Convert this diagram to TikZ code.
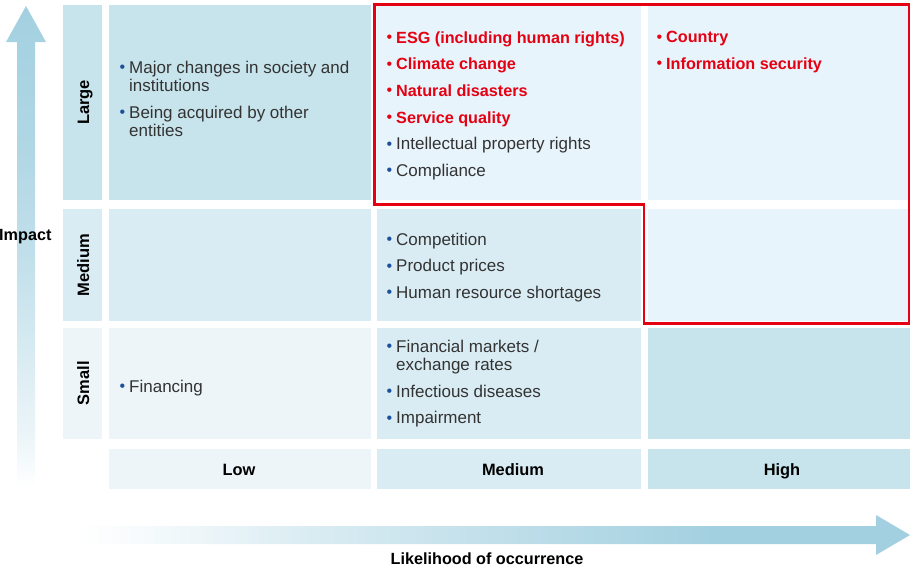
\documentclass[tikz,border=0pt]{standalone}
\usepackage{fontspec}
\setmainfont{Liberation Sans}

\definecolor{cellA}{HTML}{C7E3EB}
\definecolor{cellB}{HTML}{D9ECF3}
\definecolor{cellC}{HTML}{EDF5F9}
\definecolor{cellH}{HTML}{E8F4FC}
\definecolor{axisblue}{HTML}{A3D0E0}
\definecolor{riskred}{HTML}{E50012}
\definecolor{bodygray}{HTML}{333333}
\definecolor{dotblue}{HTML}{1D4F9C}

% axis arrow fades (white at the tail, full blue at the head)
\pgfdeclarehorizontalshading{xfade}{100bp}{color(0bp)=(white); color(25bp)=(white); color(29bp)=(axisblue!10); color(38bp)=(axisblue!38); color(50bp)=(axisblue!68); color(60bp)=(axisblue!92); color(63bp)=(axisblue); color(100bp)=(axisblue)}
\pgfdeclareverticalshading{yfade}{100bp}{color(0bp)=(white); color(25bp)=(white); color(30bp)=(axisblue!20); color(48bp)=(axisblue!65); color(60bp)=(axisblue!85); color(75bp)=(axisblue); color(100bp)=(axisblue)}

% list bullets
\newcommand\bl[1][dotblue]{\makebox[9.5pt][l]{\color{#1}\raisebox{0.6pt}{\fontsize{16}{16}\selectfont\textbullet}}}
\newcommand\rit[1]{\bl[riskred]{\color{riskred}\bfseries\fontsize{16.2}{18.4}\selectfont #1}}
\newcommand\gap{\\[8.2pt]}
\newcommand\cont{\\\hspace*{9.5pt}}

\tikzset{
  cell/.style={draw=none, inner sep=0pt, anchor=north west},
  items/.style={anchor=base west, inner sep=0pt, text=bodygray,
    font=\fontsize{17}{18.4}\selectfont},
  rowlab/.style={rotate=90, anchor=base, inner sep=0pt,
    font=\bfseries\fontsize{16.5}{16.5}\selectfont},
  collab/.style={anchor=base, inner sep=0pt,
    font=\bfseries\fontsize{16.4}{16.4}\selectfont},
  axislab/.style={inner sep=0pt, font=\bfseries\fontsize{16.2}{16.2}\selectfont},
}

\begin{document}
\begin{tikzpicture}[x=1pt, y=-1pt]
\useasboundingbox (0,0) rectangle (910,571);

% axis arrows
\path[shading=yfade] (17,488) -- (17,42) -- (6,42) -- (26,6) -- (46,42)
  -- (35,42) -- (35,488) -- cycle;
\path[shading=xfade] (80,526) -- (876,526) -- (876,515) -- (910,535)
  -- (876,555) -- (876,544) -- (80,544) -- cycle;

% row headers
\node[cell, fill=cellA, minimum width=39pt, minimum height=195pt] (rowL) at (63,5) {};
\node[cell, fill=cellB, minimum width=39pt, minimum height=112pt] (rowM) at (63,209) {};
\node[cell, fill=cellC, minimum width=39pt, minimum height=111pt] (rowS) at (63,328) {};

% grid cells: impact row x likelihood column
\node[cell, fill=cellA, minimum width=262pt, minimum height=195pt] (LL) at (109,5) {};
\node[cell, fill=cellH, minimum width=264pt, minimum height=195pt] (LM) at (377,5) {};
\node[cell, fill=cellH, minimum width=262pt, minimum height=195pt] (LH) at (648,5) {};
\node[cell, fill=cellB, minimum width=262pt, minimum height=112pt] (ML) at (109,209) {};
\node[cell, fill=cellB, minimum width=264pt, minimum height=112pt] (MM) at (377,209) {};
\node[cell, fill=cellH, minimum width=262pt, minimum height=112pt] (MH) at (648,209) {};
\node[cell, fill=cellC, minimum width=262pt, minimum height=111pt] (SL) at (109,328) {};
\node[cell, fill=cellB, minimum width=264pt, minimum height=111pt] (SM) at (377,328) {};
\node[cell, fill=cellA, minimum width=262pt, minimum height=111pt] (SH) at (648,328) {};

% column headers
\node[cell, fill=cellC, minimum width=262pt, minimum height=40pt] (colL) at (109,449) {};
\node[cell, fill=cellB, minimum width=264pt, minimum height=40pt] (colM) at (377,449) {};
\node[cell, fill=cellA, minimum width=262pt, minimum height=40pt] (colH) at (648,449) {};

% high-risk zone
\draw[riskred, line width=2.2pt, line join=miter]
  (374.5,4.5) -- (909,4.5) -- (909,323.5) -- (644,323.5) -- (644,204.5)
  -- (374.5,204.5) -- cycle;

% header labels
\node[rowlab] (labL) at (89,102.5) {Large};
\node[rowlab] (labM) at (89,265) {Medium};
\node[rowlab] (labS) at (89,383) {Small};
\node[collab] (labLow) at (239,475) {Low};
\node[collab] (labMed) at (513,475) {Medium};
\node[collab] (labHigh) at (782,475) {High};
\node[axislab, anchor=base west] (impact) at (-1,240) {Impact};
\node[axislab, anchor=base] (likely) at (487,564) {Likelihood of occurrence};

% risk items
\node[items] (tLL) at (119.5,73.3) {\parbox[t]{260pt}{\raggedright
  \bl Major changes in society and\cont institutions\gap
  \bl Being acquired by other\cont entities}};
\node[items] (tLM) at (386.5,43.3) {\parbox[t]{260pt}{\raggedright
  \rit{ESG (including human rights)}\gap
  \rit{Climate change}\gap
  \rit{Natural disasters}\gap
  \rit{Service quality}\gap
  \bl Intellectual property rights\gap
  \bl Compliance}};
\node[items] (tLH) at (656.5,42.7) {\parbox[t]{250pt}{\raggedright
  \rit{Country}\gap
  \rit{Information security}}};
\node[items] (tMM) at (386.5,245) {\parbox[t]{260pt}{\raggedright
  \bl Competition\gap
  \bl Product prices\gap
  \bl Human resource shortages}};
\node[items] (tSL) at (119.5,392) {\parbox[t]{260pt}{\raggedright
  \bl Financing}};
\node[items] (tSM) at (386.5,352) {\parbox[t]{260pt}{\raggedright
  \bl Financial markets /\cont exchange rates\gap
  \bl Infectious diseases\gap
  \bl Impairment}};
\end{tikzpicture}
\end{document}
